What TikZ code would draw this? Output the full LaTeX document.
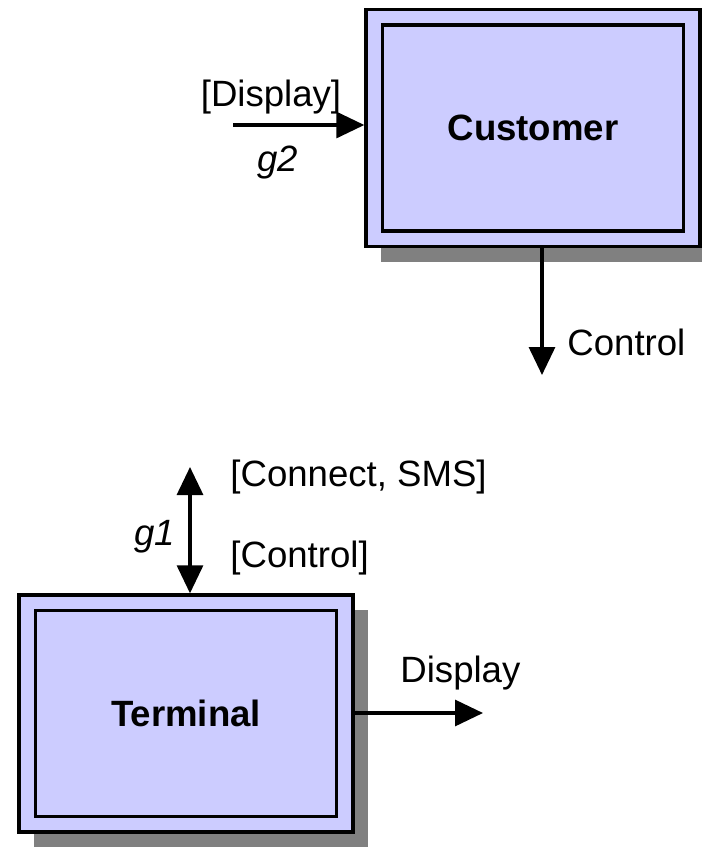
\documentclass[tikz,border=0pt]{standalone}
\usepackage{fontspec}
\setmainfont{Liberation Sans}
\usetikzlibrary{arrows.meta,shadows}
\definecolor{boxblue}{HTML}{CCCCFF}
\definecolor{shadowgray}{HTML}{808080}
\newcommand{\labelsize}{\fontsize{18.3}{22}\selectfont}
\tikzset{
    block/.style={draw, line width=1.7pt, fill=boxblue, minimum width=167pt, minimum height=118.5pt,
        drop shadow={shadow xshift=7.5pt, shadow yshift=-7.5pt, fill=shadowgray, opacity=1}},
    innerblock/.style={draw, line width=1.7pt, minimum width=150.5pt, minimum height=103pt, font=\labelsize\bfseries},
    tip/.tip={Triangle[length=14pt,width=13pt]},
    flow/.style={line width=1.6pt, -tip},
    lbl/.style={inner sep=0pt}
}
\begin{document}
\begin{tikzpicture}[x=0.5pt, y=-0.5pt, font=\labelsize]
        \useasboundingbox (0,0) rectangle (702,848);
        % boxes
        \node[block] (cust) at (533,128) {};
            \node[innerblock] (cust-in) at (cust.center) {Customer};
        \node[block] (term) at (186,713.5) {};
            \node[innerblock] (term-in) at (term.center) {Terminal};
        % free ends
        \coordinate (g2-in)   at (233,125);
        \coordinate (ctl-out) at (542,375);
        \coordinate (g1-top)  at (190,467);
        \coordinate (dsp-out) at (483,713);
        % labels
        \node[lbl] (l-disp)   at (271,97)  {[Display]};
        \node[lbl] (l-g2)     at (278,163) {\itshape g2};
        \node[lbl, anchor=west] (l-ctl)  at (567,342) {Control};
        \node[lbl, anchor=west] (l-cs)   at (230,477) {[Connect, SMS]};
        \node[lbl, anchor=west] (l-cctl) at (230,558) {[Control]};
        \node[lbl] (l-g1)     at (155,537) {\itshape g1};
        \node[lbl, anchor=west] (l-dsp)  at (400,673) {Display};
        % arrows
        \draw[flow] (g2-in) -- (g2-in -| cust.west);
        \draw[flow] (cust.south -| ctl-out) -- (ctl-out);
        \draw[flow, tip-tip] (g1-top) -- (g1-top |- term.north);
        \draw[flow] (term.east |- dsp-out) -- (dsp-out);
\end{tikzpicture}
\end{document}
